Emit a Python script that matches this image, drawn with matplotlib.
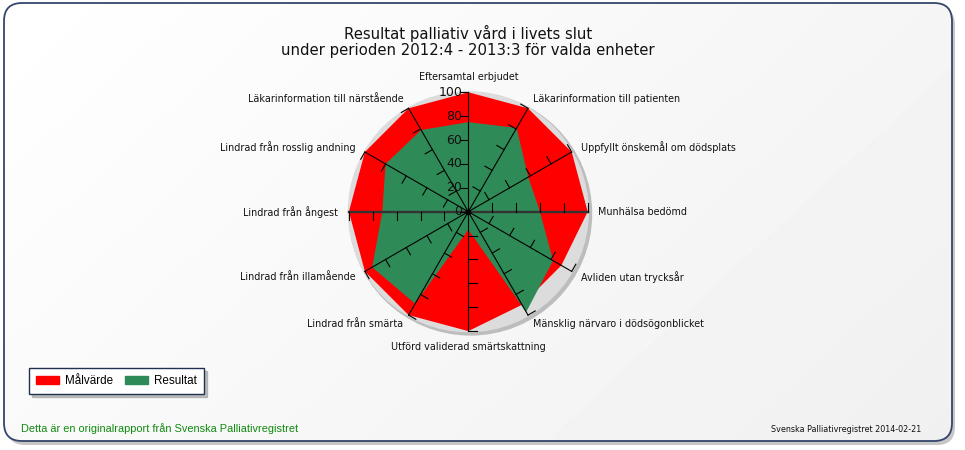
import numpy as np
import matplotlib.pyplot as plt
from matplotlib.patches import FancyBboxPatch, Circle, Patch

# data
kategorier = ["Eftersamtal erbjudet", "Läkarinformation till patienten",
              "Uppfyllt önskemål om dödsplats", "Munhälsa bedömd",
              "Avliden utan trycksår", "Mänsklig närvaro i dödsögonblicket",
              "Utförd validerad smärtskattning", "Lindrad från smärta",
              "Lindrad från illamående", "Lindrad från ångest",
              "Lindrad från rosslig andning", "Läkarinformation till närstående"]
malvarde = [100, 100, 100, 100, 90, 90, 100, 100, 100, 100, 100, 100]
resultat = [75, 81, 58, 60, 82, 97, 15, 89, 93, 72, 80, 79]
skalsteg = [0, 20, 40, 60, 80, 100]

rod = "#ff0000"
gron = "#2e8b57"

W, H = 965, 450
fig = plt.figure(figsize=(W / 100, H / 100), dpi=100)

# bakgrund med ram
bg = fig.add_axes([0, 0, 1, 1])
bg.set_xlim(0, W)
bg.set_ylim(H, 0)
bg.axis("off")
skugga = FancyBboxPatch((7, 7), 948, 438, boxstyle="round,pad=0,rounding_size=18",
                        fc="#9a9a9a", ec="none", alpha=0.55)
bg.add_patch(skugga)
ram = FancyBboxPatch((4, 3), 948, 438, boxstyle="round,pad=0,rounding_size=18",
                     fc="none", ec="#34466b", lw=1.3, zorder=3)
bg.add_patch(ram)
gx = np.linspace(0, 1, 200)
gy = np.linspace(0, 1, 100)
grad = 1.0 - 0.04 * gx[None, :] - 0.02 * gy[:, None]
im = bg.imshow(grad, cmap="gray", vmin=0, vmax=1, extent=(4, 952, 441, 3),
               aspect="auto", zorder=2)
im.set_clip_path(FancyBboxPatch((4, 3), 948, 438, boxstyle="round,pad=0,rounding_size=18",
                                transform=bg.transData))

fig.text(468 / W, 1 - 33 / H, "Resultat palliativ vård i livets slut",
         ha="center", va="center", fontsize=10.7, color="#111111")
fig.text(468 / W, 1 - 50 / H, "under perioden 2012:4 - 2013:3 för valda enheter",
         ha="center", va="center", fontsize=10.7, color="#111111")

# radar
R = 1.194  # px per enhet
cx, cy = 468.3, 211.7
half = 150
ax = fig.add_axes([(cx - half * R) / W, (H - cy - half * R) / H,
                   2 * half * R / W, 2 * half * R / H])
ax.set_xlim(-half, half)
ax.set_ylim(-half, half)
ax.axis("off")
ax.patch.set_alpha(0)

n = len(kategorier)
vinkel = np.arange(n) * 2 * np.pi / n
ux, uy = np.sin(vinkel), np.cos(vinkel)

ax.add_patch(Circle((1.8, -1.8), 102, fc="#bdbdbd", ec="none", zorder=1))
ax.add_patch(Circle((0, 0), 101, fc="#dcdcdc", ec="none", zorder=1))

m = np.array(malvarde)
r = np.array(resultat)
ax.fill(m * ux, m * uy, color=rod, lw=0, zorder=2)
ax.fill(r * ux, r * uy, color=gron, lw=0, zorder=3)

# ekrar med streck
tlen = 7
for i in range(n):
    if i in (3, 9):
        ax.plot([0, 100 * ux[i]], [0, 100 * uy[i]], color="#333333", lw=1.7, zorder=4)
    else:
        ax.plot([0, 100 * ux[i]], [0, 100 * uy[i]], color="black", lw=0.8, zorder=4)
    px, py = -np.cos(vinkel[i]), np.sin(vinkel[i])
    for s in skalsteg[1:]:
        ax.plot([s * ux[i], s * ux[i] + tlen * px], [s * uy[i], s * uy[i] + tlen * py],
                color="black", lw=0.8, zorder=4)
    lr = 109
    sx = np.sin(vinkel[i])
    if abs(sx) < 1e-6:
        ha = "center"
        va = "bottom" if uy[i] > 0 else "top"
    else:
        ha = "left" if sx > 0 else "right"
        va = "center"
    ax.text(lr * ux[i], lr * uy[i], kategorier[i], ha=ha, va=va, fontsize=6.9,
            color="#111111", clip_on=False)

ax.plot([0, -tlen], [0, 0], color="black", lw=0.8, zorder=4)
for s in skalsteg:
    ax.text(-5, s, str(s), ha="right", va="center", fontsize=9, color="#111111", zorder=5)
ax.plot([0], [0], "o", color="black", ms=3, zorder=6)

# legend
fig.legend(handles=[Patch(color=rod, label="Målvärde"), Patch(color=gron, label="Resultat")],
           loc="upper left", bbox_to_anchor=(29 / W, 1 - 368 / H), ncol=2,
           prop={"family": "Liberation Sans", "size": 8.4}, frameon=True, fancybox=False,
           edgecolor="#1f3050", framealpha=1, shadow={"color": "#999999", "alpha": 0.6},
           handlelength=2.0, handleheight=0.7, handletextpad=0.5, columnspacing=1.0,
           borderpad=0.6, borderaxespad=0)

fig.text(21 / W, 1 - 429 / H, "Detta är en originalrapport från Svenska Palliativregistret",
         ha="left", va="center", fontsize=7.9, color="#108a10", family="Liberation Sans")
fig.text(921 / W, 1 - 429 / H, "Svenska Palliativregistret 2014-02-21",
         ha="right", va="center", fontsize=5.8, color="#111111")

fig.savefig("out.png", dpi=100)
